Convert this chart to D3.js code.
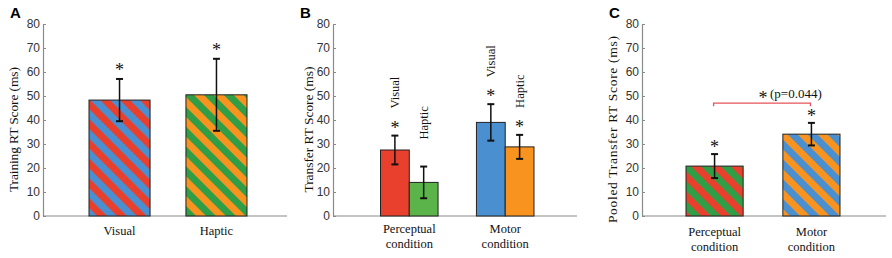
<!DOCTYPE html>
<html>
<head>
<meta charset="utf-8">
<script src="https://cdn.jsdelivr.net/npm/d3@7"></script>
<style>
  body { margin: 0; background: #fff; }
  svg { display: block; }
  .tick text { font-family: Arial, "Liberation Sans", sans-serif; font-size: 12px; fill: #333; }
  .serif { font-family: "Times New Roman", "Liberation Serif", serif; fill: #111; }
</style>
</head>
<body>
<svg id="chart" width="892" height="258"></svg>
<script>
const RED = '#e8402c'
const BLUE = '#4a8fcf'
const GREEN = '#2f9e47'
const LIGHT_GREEN = '#5bb449'
const ORANGE = '#f7931e'
const AXIS_GRAY = '#8a8a8a'

// panel A: training
const trainingCats = ['Visual', 'Haptic']
const trainingMeans = [48.3, 50.5]
const trainingErr = [8.8, 15]
const trainingStars = [true, true]

// panel B: transfer, grouped by condition
const transferCats = ['Perceptual condition', 'Motor condition']
const transferMods = ['Visual', 'Haptic']
const transferVisual = [27.5, 39]
const transferVisualErr = [6, 7.6]
const transferHaptic = [14, 28.8]
const transferHapticErr = [6.6, 5]
const transferVisualStars = [true, true]
const transferHapticStars = [false, true]

// panel C: pooled transfer
const pooledCats = ['Perceptual condition', 'Motor condition']
const pooledMeans = [20.8, 34.1]
const pooledErr = [5, 4.7]
const pooledStars = [true, true]
const pooledP = '(p=0.044)'
const pooledBracket = 47

const yTicks = [0, 10, 20, 30, 40, 50, 60, 70, 80]

const svg = d3.select('#chart')
const defs = svg.append('defs')

function stripes(id, c1, c2) {
    const p = defs.append('pattern')
        .attr('id', id)
        .attr('patternUnits', 'userSpaceOnUse')
        .attr('width', 14).attr('height', 14)
        .attr('patternTransform', 'rotate(-45)')
    p.append('rect').attr('width', 14).attr('height', 14).attr('fill', c1)
    p.append('rect').attr('width', 7).attr('height', 14).attr('fill', c2)
    return `url(#${id})`
}

const fillVisualA = stripes('pRB', BLUE, RED)
const fillHapticA = stripes('pOG', GREEN, ORANGE)
const fillPercC = stripes('pGR', RED, GREEN)
const fillMotorC = stripes('pBO', ORANGE, BLUE)

const y = d3.scaleLinear().domain([0, 80]).range([216, 24])

function panel(x0, letter, title, titleLen, titleX) {
    const g = svg.append('g')
    g.append('text')
        .attr('x', x0 - 33).attr('y', 18)
        .attr('font-family', 'Arial, "Liberation Sans", sans-serif')
        .attr('font-weight', 'bold').attr('font-size', 15)
        .text(letter)

    g.append('line')
        .attr('x1', x0).attr('x2', x0 + 244)
        .attr('y1', y(0)).attr('y2', y(0))
        .attr('stroke', AXIS_GRAY).attr('stroke-width', 1.2)

    const ax = g.append('g')
        .attr('transform', `translate(${x0},0)`)
        .call(d3.axisLeft(y).tickValues(yTicks).tickSizeInner(-3).tickSizeOuter(0).tickPadding(3))
    ax.select('.domain').attr('stroke', AXIS_GRAY).attr('stroke-width', 1.2)
    ax.selectAll('.tick line').attr('stroke', AXIS_GRAY)

    g.append('text')
        .attr('class', 'serif')
        .attr('transform', `translate(${titleX},${y(36)}) rotate(-90)`)
        .attr('text-anchor', 'middle').attr('dy', '0.35em')
        .attr('font-size', 13.5)
        .attr('textLength', titleLen).attr('lengthAdjust', 'spacing')
        .text(title)
    return g
}

function bar(g, x, w, v, fill) {
    g.append('rect')
        .attr('x', x).attr('width', w)
        .attr('y', y(v)).attr('height', y(0) - y(v))
        .attr('fill', fill).attr('stroke', '#222').attr('stroke-width', 1)
}

function errBar(g, cx, v, e) {
    const e1 = g.append('g').attr('stroke', '#111')
    e1.append('line').attr('x1', cx).attr('x2', cx)
        .attr('y1', y(v + e)).attr('y2', y(v - e)).attr('stroke-width', 1.5)
    ;[v + e, v - e].forEach((t) => {
        e1.append('line').attr('x1', cx - 3.5).attr('x2', cx + 3.5)
            .attr('y1', y(t)).attr('y2', y(t)).attr('stroke-width', 2)
    })
}

// star centred at (cx, cy)
function star(g, cx, cy) {
    g.append('text')
        .attr('class', 'serif')
        .attr('x', cx).attr('y', cy + 10)
        .attr('text-anchor', 'middle').attr('font-size', 18)
        .text('*')
}

function catLabel(g, cx, label, yb) {
    const lines = label.split(' ')
    const t = g.append('text').attr('class', 'serif')
        .attr('text-anchor', 'middle').attr('font-size', 12.5)
    lines.forEach((s, i) => {
        t.append('tspan').attr('x', cx).attr('y', yb + i * 14.5).text(s)
    })
}

// ---- A ----
const xA0 = 43
const gA = panel(xA0, 'A', 'Training RT Score (ms)', 125, 13)
const xA = d3.scaleBand().domain(trainingCats).range([xA0 + 46, xA0 + 204]).paddingInner(0.37)
const fillsA = [fillVisualA, fillHapticA]
trainingCats.forEach((c, i) => {
    const cx = xA(c) + xA.bandwidth() / 2
    bar(gA, xA(c), xA.bandwidth(), trainingMeans[i], fillsA[i])
    errBar(gA, cx, trainingMeans[i], trainingErr[i])
    if (trainingStars[i]) star(gA, cx, y(trainingMeans[i] + trainingErr[i]) - 13)
    catLabel(gA, cx, c, 235)
})

// ---- B ----
const xB0 = 333
const gB = panel(xB0, 'B', 'Transfer RT Score (ms)', 126, 308)
const xB = d3.scaleBand().domain(transferCats).range([xB0 + 47.5, xB0 + 201]).paddingInner(0.4)
const xBsub = d3.scaleBand().domain(transferMods).range([0, xB.bandwidth()])
const colorsB = {
    'Perceptual condition': [RED, LIGHT_GREEN],
    'Motor condition': [BLUE, ORANGE]
}
transferCats.forEach((c, i) => {
    const vals = [transferVisual[i], transferHaptic[i]]
    const errs = [transferVisualErr[i], transferHapticErr[i]]
    const stars = [transferVisualStars[i], transferHapticStars[i]]
    transferMods.forEach((m, j) => {
        const bx = xB(c) + xBsub(m)
        const cx = bx + xBsub.bandwidth() / 2
        const top = y(vals[j] + errs[j])
        bar(gB, bx, xBsub.bandwidth(), vals[j], colorsB[c][j])
        errBar(gB, cx, vals[j], errs[j])
        if (stars[j]) star(gB, cx, top - 12)
        gB.append('text')
            .attr('class', 'serif')
            .attr('transform', `translate(${cx},${top - 27}) rotate(-90)`)
            .attr('dy', '0.35em').attr('font-size', 12.5)
            .text(m)
    })
    catLabel(gB, xB(c) + xB.bandwidth() / 2, c, 233)
})

// ---- C ----
const xC0 = 642
const gC = panel(xC0, 'C', 'Pooled Transfer RT Score (ms)', 187, 612)
const xC = d3.scaleBand().domain(pooledCats).range([xC0 + 44, xC0 + 198]).paddingInner(0.41)
const fillsC = [fillPercC, fillMotorC]
pooledCats.forEach((c, i) => {
    const cx = xC(c) + xC.bandwidth() / 2
    bar(gC, xC(c), xC.bandwidth(), pooledMeans[i], fillsC[i])
    errBar(gC, cx, pooledMeans[i], pooledErr[i])
    if (pooledStars[i]) star(gC, cx, y(pooledMeans[i] + pooledErr[i]) - 11)
    catLabel(gC, cx, c, 236)
})

// significance bracket
const c1 = xC(pooledCats[0]) + xC.bandwidth() / 2
const c2 = xC(pooledCats[1]) + xC.bandwidth() / 2
const yb = y(pooledBracket)
gC.append('path')
    .attr('d', `M${c1 - 1},${yb + 3}V${yb}H${c2 - 1}V${yb + 3}`)
    .attr('fill', 'none').attr('stroke', '#e5545a').attr('stroke-width', 1.3)
star(gC, (c1 + c2) / 2, yb - 9)
gC.append('text')
    .attr('class', 'serif')
    .attr('x', (c1 + c2) / 2 + 7).attr('y', yb - 5)
    .attr('font-size', 13)
    .text(pooledP)
</script>
</body>
</html>
